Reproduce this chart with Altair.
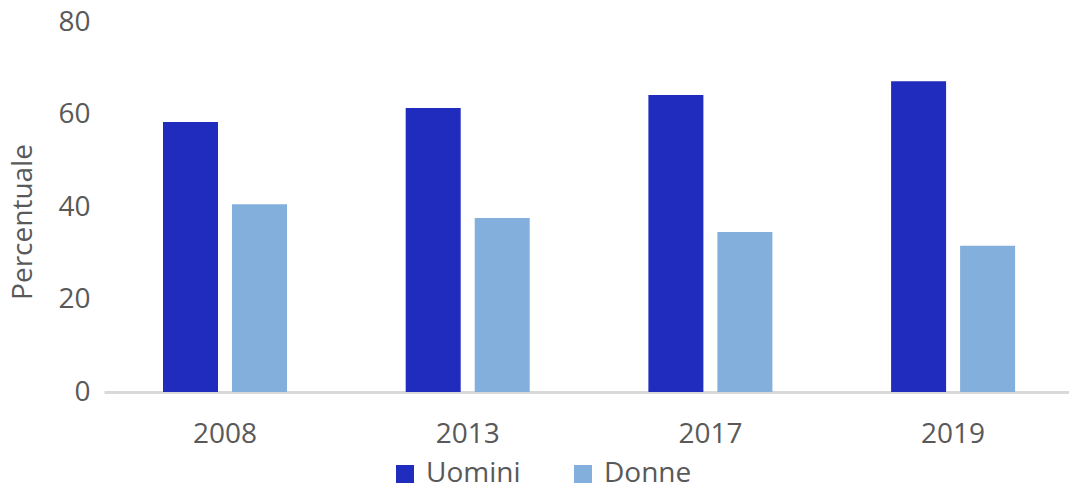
import altair as alt
import pandas as pd

years = ["2008", "2013", "2017", "2019"]
uomini = [58.4, 61.4, 64.2, 67.2]
donne = [40.6, 37.6, 34.6, 31.6]
series = ["Uomini", "Donne"]
colors = ["#1F2CBE", "#83AFDC"]

rows = []
for i, y in enumerate(years):
    rows.append({"anno": y, "sesso": "Uomini", "valore": uomini[i]})
    rows.append({"anno": y, "sesso": "Donne", "valore": donne[i]})
df = pd.DataFrame(rows)

FONT = "Open Sans"
GRAY = "#595959"

chart = alt.Chart(df).mark_bar().encode(
    x=alt.X("anno:N", sort=years,
            scale=alt.Scale(paddingInner=0.489, paddingOuter=0.2326, align=0.5226),
            axis=alt.Axis(title=None, labelAngle=0, tickSize=0, domainColor="#D9D9D9",
                          domainWidth=3, labelPadding=28, labelFontSize=28,
                          labelColor=GRAY, labelFont=FONT)),
    xOffset=alt.XOffset("sesso:N", sort=series,
                        scale=alt.Scale(paddingInner=0.203, paddingOuter=0)),
    y=alt.Y("valore:Q", scale=alt.Scale(domain=[0, 80], nice=False),
            axis=alt.Axis(values=[0, 20, 40, 60, 80], title="Percentuale", grid=False,
                          domain=False, ticks=False, labelPadding=14, labelFontSize=28,
                          labelColor=GRAY, labelFont=FONT, titleFontSize=28,
                          titleFontWeight="normal", titleColor=GRAY, titleFont=FONT,
                          titleX=-81, titleY=199.5, titleAngle=270, titleAlign="center",
                          titleBaseline="middle")),
    color=alt.Color("sesso:N", sort=series,
                    scale=alt.Scale(domain=series, range=colors),
                    legend=alt.Legend(title=None, orient="none", legendX=287, legendY=438,
                                      direction="horizontal", symbolType="square",
                                      symbolSize=324, symbolStrokeWidth=0, labelFontSize=28,
                                      labelColor=GRAY, labelFont=FONT, labelOffset=7,
                                      columnPadding=48, labelLimit=200)),
).properties(
    width=965, height=370,
    padding={"left": 104, "top": 22, "right": 0, "bottom": 94},
    autosize=alt.AutoSizeParams(type="none"),
).configure_view(stroke=None)

chart.save("out.html", embed_options={"renderer": "svg", "actions": False})
